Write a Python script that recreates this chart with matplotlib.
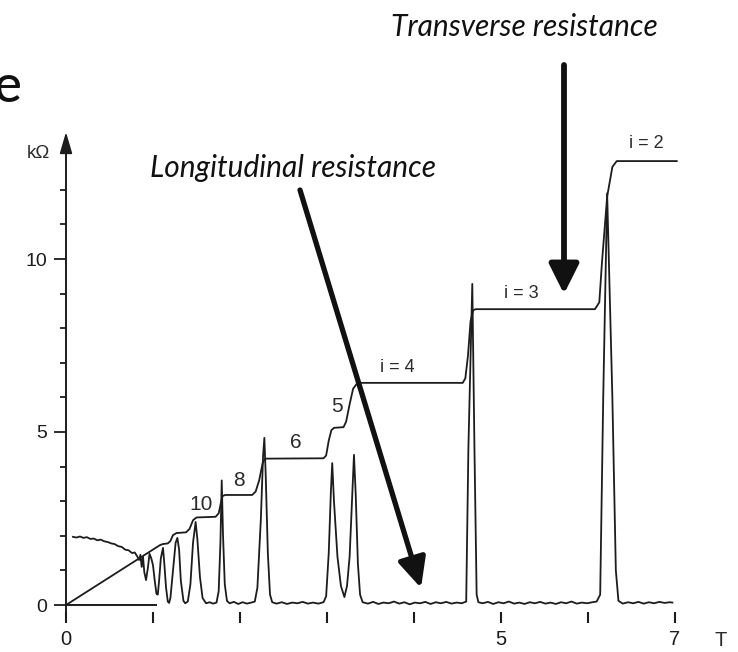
import matplotlib
matplotlib.use("Agg")
import matplotlib.pyplot as plt

# ---------------- data ----------------
# Hall (transverse) resistance, B in tesla, R in kOhm
hall_B = [0.00, 1.08, 1.11, 1.17, 1.20, 1.23, 1.27, 1.38, 1.42, 1.46, 1.50, 1.72,
          1.755, 1.78, 1.80, 1.83, 2.14, 2.18, 2.22, 2.26, 2.29, 2.96, 2.99, 3.02,
          3.05, 3.08, 3.19, 3.22, 3.26, 3.30, 3.35, 4.56, 4.59, 4.62, 4.65, 4.68,
          4.71, 6.08, 6.13, 6.16, 6.22, 6.28, 6.33, 7.02]
hall_R = [0.00, 1.73, 1.76, 1.78, 1.85, 2.02, 2.08, 2.10, 2.20, 2.45, 2.53, 2.55,
          2.65, 2.95, 3.15, 3.18, 3.18, 3.28, 3.60, 4.10, 4.23, 4.24, 4.32, 4.75,
          5.05, 5.12, 5.14, 5.30, 5.80, 6.25, 6.42, 6.42, 6.55, 7.20, 8.20, 8.52,
          8.55, 8.55, 8.75, 9.88, 11.80, 12.66, 12.83, 12.83]

# Longitudinal resistance
long_B = [0.08, 0.12, 0.16, 0.20, 0.24, 0.28, 0.32, 0.36, 0.40, 0.44, 0.48, 0.52,
          0.56, 0.60, 0.64, 0.68, 0.72, 0.76, 0.79, 0.82, 0.84, 0.855, 0.87, 0.885,
          0.90, 0.92, 0.94, 0.96, 0.98, 1.00, 1.02, 1.04, 1.055, 1.07, 1.09, 1.115,
          1.13, 1.15, 1.17, 1.185, 1.20, 1.23, 1.26, 1.28, 1.30, 1.32, 1.35, 1.37,
          1.40, 1.43, 1.46, 1.49, 1.51, 1.54, 1.57, 1.61, 1.65, 1.69, 1.73, 1.755,
          1.775, 1.79, 1.805, 1.825, 1.85, 1.88, 1.93, 1.98, 2.03, 2.08, 2.13, 2.17,
          2.20, 2.24, 2.265, 2.28, 2.295, 2.32, 2.345, 2.37, 2.42, 2.48, 2.54, 2.60,
          2.66, 2.72, 2.78, 2.84, 2.90, 2.96, 2.99, 3.02, 3.045, 3.06, 3.08, 3.12,
          3.16, 3.20, 3.23, 3.26, 3.29, 3.31, 3.33, 3.355, 3.38, 3.41, 3.47, 3.53,
          3.59, 3.65, 3.71, 3.77, 3.83, 3.89, 3.95, 4.01, 4.07, 4.13, 4.19, 4.25,
          4.31, 4.37, 4.43, 4.49, 4.55, 4.60, 4.625, 4.67, 4.695, 4.72, 4.74, 4.79,
          4.85, 4.91, 4.97, 5.03, 5.09, 5.15, 5.21, 5.27, 5.33, 5.39, 5.45, 5.51,
          5.57, 5.63, 5.69, 5.75, 5.81, 5.87, 5.93, 5.99, 6.05, 6.10, 6.14, 6.175,
          6.22, 6.28, 6.32, 6.35, 6.40, 6.46, 6.52, 6.58, 6.64, 6.70, 6.76, 6.82,
          6.88, 6.94, 6.97]
long_R = [1.97, 1.95, 1.98, 1.94, 1.96, 1.91, 1.92, 1.87, 1.89, 1.84, 1.82, 1.78,
          1.76, 1.70, 1.68, 1.60, 1.58, 1.50, 1.52, 1.40, 1.30, 1.45, 1.10, 1.40,
          0.95, 0.72, 1.05, 1.48, 1.35, 1.15, 0.70, 0.32, 0.30, 0.70, 1.35, 1.65,
          1.20, 0.50, 0.10, 0.06, 0.20, 1.00, 1.80, 1.94, 1.60, 0.70, 0.12, 0.05,
          0.10, 0.60, 1.80, 2.40, 1.90, 0.80, 0.20, 0.05, 0.08, 0.04, 0.07, 0.40,
          1.80, 3.60, 2.00, 0.60, 0.12, 0.05, 0.09, 0.03, 0.08, 0.04, 0.07, 0.10,
          0.50, 2.50, 4.30, 4.83, 3.80, 1.50, 0.30, 0.08, 0.04, 0.08, 0.03, 0.07,
          0.05, 0.09, 0.04, 0.07, 0.04, 0.08, 0.25, 1.50, 3.30, 4.10, 3.00, 1.40,
          0.55, 0.23, 0.55, 1.40, 3.20, 4.34, 3.20, 1.20, 0.30, 0.08, 0.04, 0.09,
          0.03, 0.07, 0.05, 0.10, 0.04, 0.08, 0.02, 0.07, 0.05, 0.09, 0.03, 0.08,
          0.05, 0.09, 0.04, 0.07, 0.05, 0.10, 4.50, 9.28, 4.50, 0.30, 0.08, 0.05,
          0.09, 0.03, 0.08, 0.05, 0.10, 0.04, 0.07, 0.03, 0.08, 0.05, 0.09, 0.04,
          0.07, 0.03, 0.08, 0.05, 0.10, 0.04, 0.07, 0.05, 0.08, 0.10, 0.30, 6.00,
          11.90, 6.00, 1.00, 0.12, 0.04, 0.08, 0.05, 0.09, 0.04, 0.08, 0.05, 0.09,
          0.06, 0.08, 0.07]

plateau_labels = ["i = 2", "i = 3", "i = 4", "5", "6", "8", "10"]
x_ticks = [0, 1, 2, 3, 4, 5, 6, 7]
x_tick_labels = ["0", "", "", "", "", "5", "", "7"]
y_major = [0, 5, 10]
y_minor = [1, 2, 3, 4, 6, 7, 8, 9, 11, 12]

# ---------------- layout ----------------
W, H = 738, 652
X0, SX, Y0, SY = 66.0, 87.0, 605.0, 34.6   # pixel position of origin and pixels per unit


def P(xp, yp):
    """reference pixel (top-left origin) -> data coordinates"""
    return (xp - X0) / SX, (Y0 - yp) / SY


INK = "#1c1c1c"
TICKFONT = ["Liberation Sans", "DejaVu Sans"]

fig = plt.figure(figsize=(W / 100, H / 100), dpi=100)
ax = fig.add_axes([0, 0, 1, 1])
ax.set_xlim(P(0, 0)[0], P(W, 0)[0])
ax.set_ylim(P(0, H)[1], P(0, 0)[1])
ax.patch.set_alpha(0)

for s in ["top", "right"]:
    ax.spines[s].set_visible(False)
ax.spines["left"].set_position(("data", 0))
ax.spines["left"].set_bounds(P(0, 617)[1], 13.2)
ax.spines["left"].set_linewidth(1.4)
ax.spines["left"].set_color(INK)
ax.spines["bottom"].set_position(("data", P(0, 612)[1]))
ax.spines["bottom"].set_color("none")

ax.set_xticks(x_ticks)
ax.set_xticklabels(x_tick_labels, fontfamily=TICKFONT)
ax.set_yticks(y_major)
ax.set_yticklabels([str(v) for v in y_major], fontfamily=TICKFONT)
ax.set_yticks(y_minor, minor=True)
ax.tick_params(axis="y", which="major", direction="out", length=8.5, width=1.3,
               pad=5, labelsize=14, colors=INK)
ax.tick_params(axis="y", which="minor", direction="out", length=4, width=1.3, colors=INK)
ax.tick_params(axis="x", which="major", direction="out", length=8, width=1.5,
               pad=5, labelsize=14.5, colors=INK)

# y-axis arrow head
ax.annotate("", xy=(0, P(0, 132)[1]), xytext=(0, 12.9),
            arrowprops=dict(arrowstyle="-|>,head_length=1.3,head_width=0.38",
                            lw=1.3, color=INK, shrinkA=0, shrinkB=0))
# left part of the field axis
ax.plot([0, 1.05], [0, 0], color=INK, lw=1.4, solid_capstyle="butt")
# right field-axis arrow
ax.annotate("", xy=(P(740, 0)[0], 0), xytext=(P(687, 0)[0], 0),
            arrowprops=dict(arrowstyle="-|>,head_length=1.0,head_width=0.38",
                            lw=1.4, color=INK, shrinkA=0, shrinkB=0))

# curves
ax.plot(hall_B, hall_R, color=INK, lw=1.3, solid_joinstyle="round")
ax.plot(long_B, long_R, color=INK, lw=1.3, solid_joinstyle="round")

# plateau labels
label_px = [(646, 144), (521, 293), (397, 368), (337, 407), (296, 443), (239, 481), (201, 504)]
label_size = [13, 13, 13, 15, 15, 15, 15]
for txt, (xp, yp), fs in zip(plateau_labels, label_px, label_size):
    ax.text(*P(xp, yp), txt, ha="center", va="center", fontsize=fs,
            family=TICKFONT, color="#2a2a2a")

# unit labels
ax.text(*P(38, 154), "kΩ", ha="center", va="center", fontsize=13.5,
        family=TICKFONT, color="#2a2a2a")
ax.text(*P(721, 640), "T", ha="center", va="center", fontsize=14.5,
        family=TICKFONT, color="#2a2a2a")

# annotations
ANN = ["Lato", "DejaVu Sans"]
ax.text(*P(22, 88), "e", ha="right", va="center", fontsize=38, family=ANN,
        weight="medium", color="#111111")
ax.text(*P(524, 27), "Transverse resistance", ha="center", va="center", fontsize=21.5,
        family=ANN, style="italic", color="#111111")
ax.text(*P(293, 168), "Longitudinal resistance", ha="center", va="center", fontsize=21.5,
        family=ANN, style="italic", color="#111111")

ax.annotate("", xy=P(421, 588), xytext=P(300, 190),
            arrowprops=dict(arrowstyle="-|>,head_length=1.8,head_width=0.85",
                            lw=3.8, color="#111111", shrinkA=0, shrinkB=0,
                            mutation_scale=10))
ax.annotate("", xy=P(564, 294), xytext=P(564, 65),
            arrowprops=dict(arrowstyle="-|>,head_length=1.8,head_width=0.9",
                            lw=4.2, color="#111111", shrinkA=0, shrinkB=0,
                            mutation_scale=10))

fig.savefig("out.png", dpi=100)
